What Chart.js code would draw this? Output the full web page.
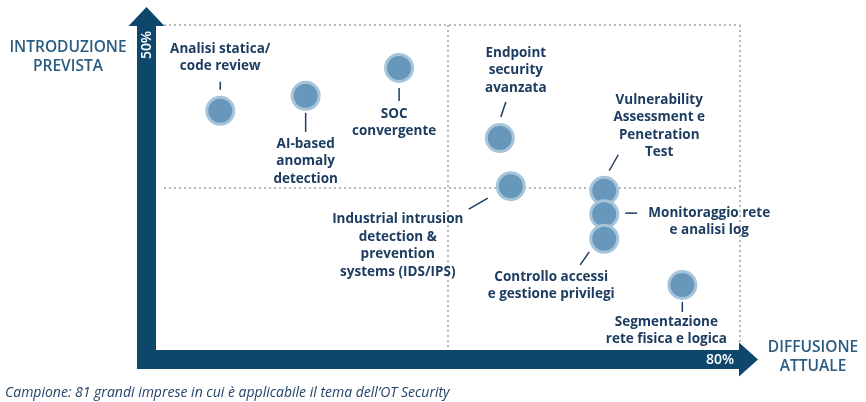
<!DOCTYPE html>
<html>
<head>
<meta charset="utf-8">
<script src="https://cdn.jsdelivr.net/npm/chart.js@4/dist/chart.umd.min.js"></script>
<style>
  html, body { margin: 0; padding: 0; background: #fff; }
  #wrap { position: relative; width: 866px; height: 402px; }
</style>
</head>
<body>
<div id="wrap"><canvas id="matrix" width="866" height="402"></canvas></div>
<script>
// Technologies (label lines), current diffusion (%) and expected introduction (%)
const technologies = [
    ['Analisi statica/', 'code review'],
    ['AI-based', 'anomaly', 'detection'],
    ['SOC', 'convergente'],
    ['Endpoint', 'security', 'avanzata'],
    ['Industrial intrusion', 'detection &', 'prevention', 'systems (IDS/IPS)'],
    ['Vulnerability', 'Assessment e', 'Penetration', 'Test'],
    ['Monitoraggio rete', 'e analisi log'],
    ['Controllo accessi', 'e gestione privilegi'],
    ['Segmentazione', 'rete fisica e logica']
];
const diffusioneAttuale = [8.8, 20.5, 33.3, 47.1, 48.6, 61.4, 61.4, 61.4, 72.1];
const introduzionePrevista = [36.8, 39.1, 43.4, 32.6, 25.2, 24.5, 20.9, 17.1, 10.0];

const xMax = 80;   // "80%"
const yMax = 50;   // "50%"
const footnote = 'Campione: 81 grandi imprese in cui è applicabile il tema dell\u2019OT Security';

// label placement relative to each bubble: text centre offset + leader line
const labelLayout = [
    { dx: 0,    dy: -62, lead: [0, -29, 0, -21] },
    { dx: 0,    dy: 48,  lead: [0, 17, 0, 36] },
    { dx: -5,   dy: 46,  lead: [0, 20, 0, 33] },
    { dx: 16,   dy: -85, lead: [1, -21, 6, -36] },
    { dx: -113, dy: 33,  lead: [-42, 23, -23, 12] },
    { dx: 55,   dy: -91, lead: [5, -20, 14, -36] },
    { dx: 105,  dy: -1,  lead: [21, -1, 33, -1] },
    { dx: -53,  dy: 38,  lead: [-24, 26, -15, 13] },
    { dx: -16,  dy: 37,  lead: [0, 17, 0, 27] }
];

const AXIS_COLOR = '#0e476c';
const LABEL_COLOR = '#1c3c60';
const TITLE_COLOR = '#2a5b80';
const BAR = 19;

// dotted quadrant grid
const gridPlugin = {
    id: 'quadGrid',
    beforeDatasetsDraw(chart) {
        const { ctx, chartArea: a, scales: { x, y } } = chart;
        ctx.save();
        ctx.strokeStyle = '#b9b9b9';
        ctx.lineWidth = 2;
        ctx.setLineDash([2, 3]);
        [xMax / 2, xMax].forEach(v => {
            const px = Math.round(x.getPixelForValue(v));
            ctx.beginPath();
            ctx.moveTo(px, a.top);
            ctx.lineTo(px, a.bottom);
            ctx.stroke();
        });
        [yMax / 2, yMax].forEach(v => {
            const py = Math.round(y.getPixelForValue(v));
            ctx.beginPath();
            ctx.moveTo(a.left + 8, py);
            ctx.lineTo(a.right, py);
            ctx.stroke();
        });
        ctx.restore();
    }
};

// thick arrow axes, axis titles and labels
const decorPlugin = {
    id: 'decor',
    afterDatasetsDraw(chart) {
        const { ctx, chartArea: a } = chart;
        ctx.save();

        // axes
        ctx.fillStyle = AXIS_COLOR;
        ctx.fillRect(a.left - BAR, a.top, BAR, a.bottom + BAR - a.top);
        ctx.fillRect(a.left - BAR, a.bottom, a.right - a.left + BAR - 1, BAR);
        // up arrow
        const cx = a.left - BAR / 2;
        ctx.beginPath();
        ctx.moveTo(cx - 18, a.top + 1);
        ctx.lineTo(cx + 18, a.top + 1);
        ctx.lineTo(cx, a.top - 18);
        ctx.closePath();
        ctx.fill();
        // right arrow
        const cy = a.bottom + BAR / 2;
        ctx.beginPath();
        ctx.moveTo(a.right - 1, cy - 17);
        ctx.lineTo(a.right - 1, cy + 17);
        ctx.lineTo(a.right + 18, cy);
        ctx.closePath();
        ctx.fill();

        // axis end values
        ctx.fillStyle = '#ffffff';
        ctx.font = '600 14px "Open Sans"';
        ctx.textAlign = 'right';
        ctx.textBaseline = 'middle';
        ctx.fillText(xMax + '%', a.right - 6, cy + 1);
        ctx.save();
        ctx.translate(cx + 1, a.top + 5);
        ctx.rotate(-Math.PI / 2);
        ctx.fillText(yMax + '%', -1, 0);
        ctx.restore();

        // axis titles
        ctx.fillStyle = TITLE_COLOR;
        ctx.font = '600 15.5px "Open Sans"';
        ctx.textAlign = 'center';
        ctx.fillText('INTRODUZIONE', 68, 48);
        ctx.fillText('PREVISTA', 68, 67);
        ctx.fillText('DIFFUSIONE', 813, 348);
        ctx.fillText('ATTUALE', 813, 367);

        // bubble labels
        const meta = chart.getDatasetMeta(0);
        ctx.font = '700 13.5px "Open Sans"';
        ctx.strokeStyle = LABEL_COLOR;
        ctx.lineWidth = 1.5;
        meta.data.forEach((pt, i) => {
            const L = labelLayout[i];
            ctx.fillStyle = LABEL_COLOR;
            technologies[i].forEach((line, k) => {
                ctx.fillText(line, pt.x + L.dx, pt.y + L.dy + k * 17.5);
            });
            ctx.beginPath();
            ctx.moveTo(pt.x + L.lead[0], pt.y + L.lead[1]);
            ctx.lineTo(pt.x + L.lead[2], pt.y + L.lead[3]);
            ctx.stroke();
        });

        // footnote
        ctx.fillStyle = '#22436a';
        ctx.font = 'italic 14px "Open Sans"';
        ctx.textAlign = 'left';
        ctx.fillText(footnote, 5, 393);
        ctx.restore();
    }
};

new Chart(document.getElementById('matrix'), {
    type: 'scatter',
    data: {
        datasets: [{
            data: diffusioneAttuale.map((v, i) => ({ x: v, y: introduzionePrevista[i] })),
            backgroundColor: '#6797bb',
            borderColor: '#a6c4da',
            borderWidth: 3,
            pointRadius: 13.5,
            pointHoverRadius: 13.5
        }]
    },
    options: {
        responsive: false,
        animation: false,
        clip: false,
        layout: { padding: { left: 156, right: 126, top: 25, bottom: 52 } },
        plugins: { legend: { display: false }, tooltip: { enabled: false } },
        scales: {
            x: { display: false, min: 0, max: xMax },
            y: { display: false, min: 0, max: yMax }
        }
    },
    plugins: [gridPlugin, decorPlugin]
});
</script>
</body>
</html>
